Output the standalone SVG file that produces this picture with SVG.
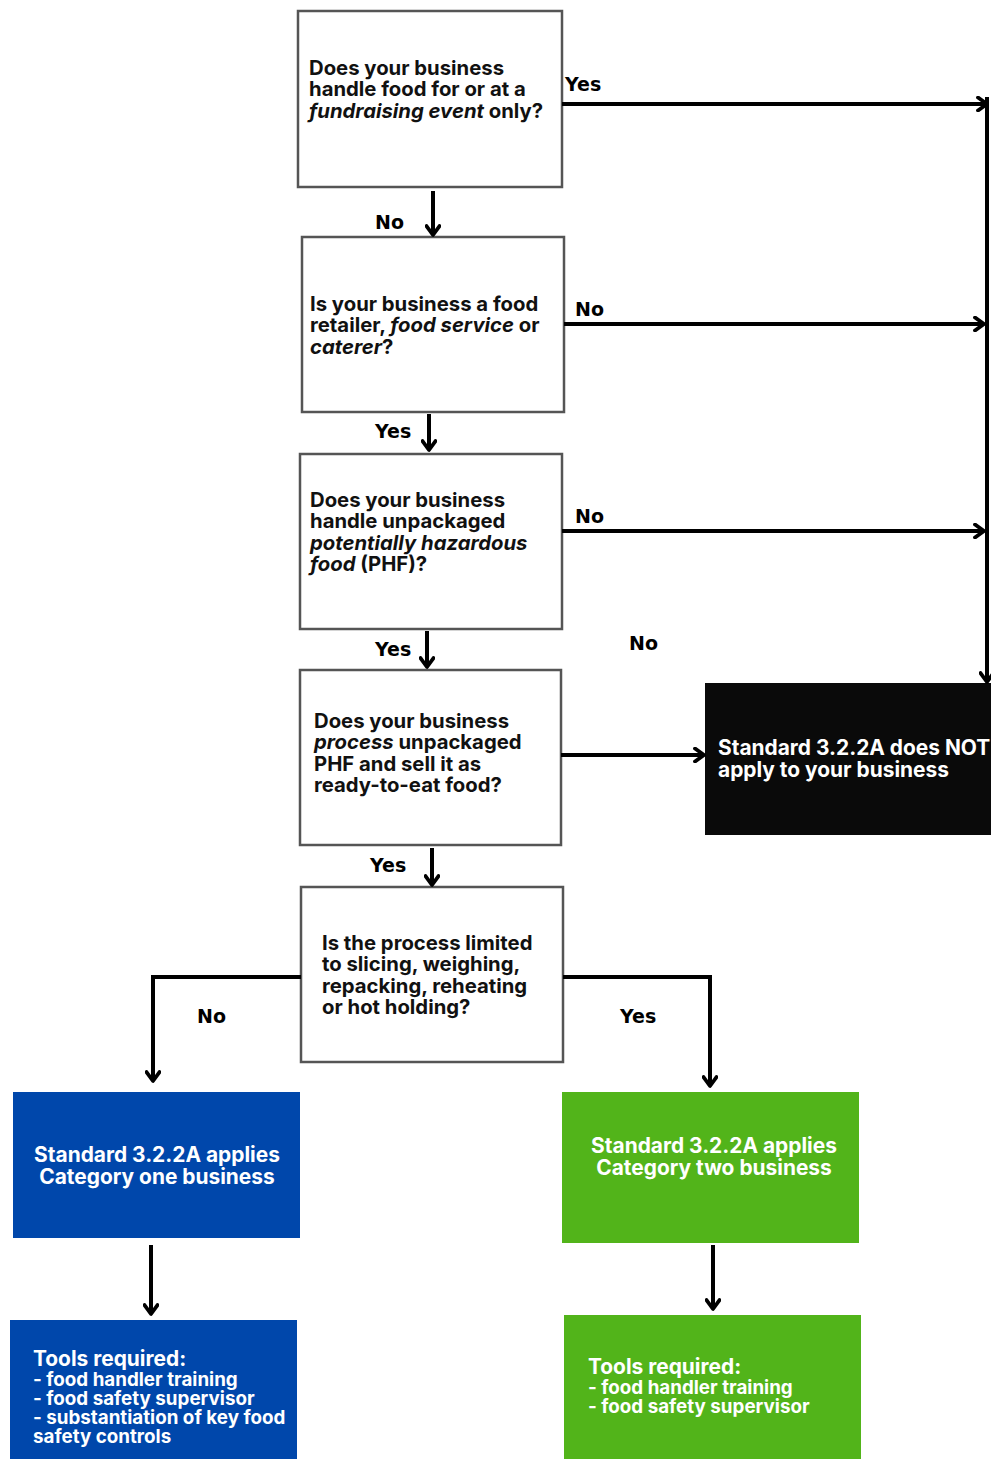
<svg xmlns="http://www.w3.org/2000/svg" width="991" height="1459" viewBox="0 0 991 1459">
<defs>
<marker id="ah" viewBox="0 0 14 16" refX="11" refY="8" markerWidth="14" markerHeight="16" markerUnits="userSpaceOnUse" orient="auto">
<path d="M2,1.5 L11,8 L2,14.5" fill="none" stroke="#000" stroke-width="3.8" stroke-linecap="round" stroke-linejoin="round"/>
</marker>
<style>
.q{fill:#fff;stroke:#555;stroke-width:2.5}
.t{font-family:Inter,"Liberation Sans",sans-serif;font-weight:700;font-size:20.3px;fill:#111}
.w{font-family:Inter,"Liberation Sans",sans-serif;font-weight:700;font-size:20.9px;fill:#fff}
.s{font-size:18.8px}
.l{font-family:"DejaVu Sans",sans-serif;font-weight:700;font-size:19px;fill:#000}
.c{fill:none;stroke:#000;stroke-width:4}
.a{marker-end:url(#ah)}
</style>
</defs>
<g id="q1"><rect class="q" x="298" y="11" width="264" height="176"/>
<text class="t" x="309"><tspan x="309" y="75">Does your business</tspan><tspan x="309" y="96">handle food for or at a</tspan><tspan x="309" y="118"><tspan font-style="italic">fundraising event</tspan> only?</tspan></text></g>
<g id="q2"><rect class="q" x="302" y="237" width="262" height="175"/>
<text class="t"><tspan x="310" y="311">Is your business a food</tspan><tspan x="310" y="332">retailer, <tspan font-style="italic">food service</tspan> or</tspan><tspan x="310" y="354" font-style="italic">caterer</tspan><tspan>?</tspan></text></g>
<g id="q3"><rect class="q" x="300" y="454" width="262" height="175"/>
<text class="t"><tspan x="310" y="507">Does your business</tspan><tspan x="310" y="528">handle unpackaged</tspan><tspan x="310" y="550" font-style="italic">potentially hazardous</tspan><tspan x="310" y="571"><tspan font-style="italic">food</tspan> (PHF)?</tspan></text></g>
<g id="q4"><rect class="q" x="300" y="670" width="261" height="175"/>
<text class="t"><tspan x="314" y="728">Does your business</tspan><tspan x="314" y="749"><tspan font-style="italic">process</tspan> unpackaged</tspan><tspan x="314" y="771">PHF and sell it as</tspan><tspan x="314" y="792">ready-to-eat food?</tspan></text></g>
<g id="q5"><rect class="q" x="301" y="887" width="262" height="175"/>
<text class="t"><tspan x="322" y="950">Is the process limited</tspan><tspan x="322" y="971">to slicing, weighing,</tspan><tspan x="322" y="993">repacking, reheating</tspan><tspan x="322" y="1014">or hot holding?</tspan></text></g>
<g id="notapply"><rect x="705" y="683" width="286" height="152" fill="#0a0a0a"/>
<text class="w"><tspan x="718" y="755">Standard 3.2.2A does NOT</tspan><tspan x="718" y="777">apply to your business</tspan></text></g>
<g id="cat1"><rect x="13" y="1092" width="287" height="146" fill="#0047ab"/>
<text class="w" text-anchor="middle"><tspan x="157" y="1162">Standard 3.2.2A applies</tspan><tspan x="157" y="1184">Category one business</tspan></text></g>
<g id="cat2"><rect x="562" y="1092" width="297" height="151" fill="#52b41a"/>
<text class="w" text-anchor="middle"><tspan x="714" y="1153">Standard 3.2.2A applies</tspan><tspan x="714" y="1175">Category two business</tspan></text></g>
<g id="tools1"><rect x="10" y="1320" width="287" height="139" fill="#0047ab"/>
<text class="w"><tspan x="33" y="1366">Tools required:</tspan><tspan class="s" x="33" y="1386">- food handler training</tspan><tspan class="s" x="33" y="1405">- food safety supervisor</tspan><tspan class="s" x="33" y="1424">- substantiation of key food</tspan><tspan class="s" x="33" y="1443">safety controls</tspan></text></g>
<g id="tools2"><rect x="564" y="1315" width="297" height="144" fill="#52b41a"/>
<text class="w"><tspan x="588" y="1374">Tools required:</tspan><tspan class="s" x="588" y="1394">- food handler training</tspan><tspan class="s" x="588" y="1413">- food safety supervisor</tspan></text></g>
<g id="connectors">
<path class="c a" d="M562,104 H987"/>
<path class="c a" d="M987,97 V682"/>
<path class="c a" d="M564,324 H984"/>
<path class="c a" d="M562,531 H984"/>
<path class="c a" d="M561,755 H704"/>
<path class="c a" d="M433,191 V235"/>
<path class="c a" d="M429,414 V450"/>
<path class="c a" d="M427,631 V667"/>
<path class="c a" d="M432,848 V885"/>
<path class="c a" d="M301,977 H153 V1081"/>
<path class="c a" d="M563,977 H710 V1086"/>
<path class="c a" d="M151,1245 V1314"/>
<path class="c a" d="M713,1245 V1309"/>
</g>
<g id="labels">
<text class="l" x="565" y="91">Yes</text>
<text class="l" x="375" y="229">No</text>
<text class="l" x="575" y="316">No</text>
<text class="l" x="375" y="438">Yes</text>
<text class="l" x="575" y="523">No</text>
<text class="l" x="375" y="656">Yes</text>
<text class="l" x="629" y="650">No</text>
<text class="l" x="370" y="872">Yes</text>
<text class="l" x="197" y="1023">No</text>
<text class="l" x="620" y="1023">Yes</text>
</g>
</svg>
